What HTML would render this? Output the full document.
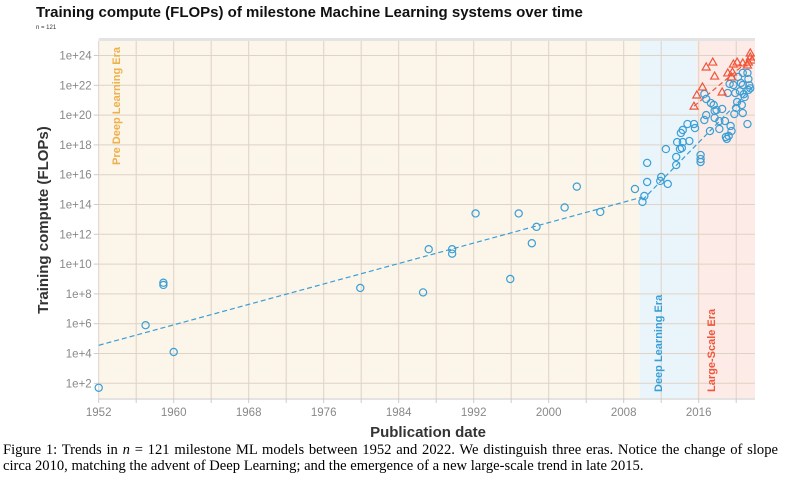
<!DOCTYPE html>
<html><head><meta charset="utf-8"><style>
body{margin:0;background:#fff;width:788px;height:490px;overflow:hidden;font-family:"Liberation Sans",sans-serif}
#cap{position:absolute;left:3px;top:442px;font-family:"Liberation Serif",serif;font-size:14.6px;line-height:16px;color:#000;width:775px;text-align:justify}
</style></head><body>
<svg id="chart" width="788" height="440" style="position:absolute;left:0;top:0" font-family="Liberation Sans, sans-serif"></svg>
<div id="cap">Figure 1: Trends in <i>n</i> = 121 milestone ML models between 1952 and 2022. We distinguish three eras. Notice the change of slope circa 2010, matching the advent of Deep Learning; and the emergence of a new large-scale trend in late 2015.</div>
<script>
const xTicks=[1952,1960,1968,1976,1984,1992,2000,2008,2016];
const yTicks=[2,4,6,8,10,12,14,16,18,20,22,24];
const eraStarts=[1952,2009.7,2015.8,2022.3];
const circleYears=[1952,1957,1958.9,1958.9,1960,1979.9,1986.6,1987.2,1989.7,1989.7,1992.2,1995.9,1996.8,1998.2,1998.7,2001.7,2003,2005.5,2009.2,2010.2,2010.0,2010.5,2010.5,2012.0,2011.9,2012.7,2012.5,2013.6,2013.6,2013.7,2014.0,2014.2,2014.3,2014.1,2014.3,2014.8,2015.0,2015.5,2015.6,2016.2,2016.2,2016.2,2016.6,2016.8,2016.6,2016.8,2017.2,2017.3,2017.6,2017.7,2017.9,2017.7,2018.2,2018.2,2018.5,2018.8,2018.9,2019.0,2019.2,2019.4,2019.5,2019.1,2019.3,2019.7,2019.9,2020.0,2019.8,2020.1,2020.6,2020.7,2021.2,2020.2,2020.7,2021.2,2020.7,2021.3,2021.3,2020.9,2020.5,2021.5,2021.4,2020.4,2020.8];
const circleLogs=[1.7,5.9,8.6,8.75,4.1,8.4,8.1,11.0,10.7,11.0,13.4,9.0,13.4,11.4,12.5,13.8,15.2,13.5,15.04,14.57,14.17,15.51,16.79,15.85,15.58,15.38,17.72,17.19,16.65,18.19,17.72,17.79,18.19,18.8,19.0,19.4,18.26,19.4,19.13,17.32,17.05,16.85,21.42,21.08,19.67,20.0,18.93,20.81,20.68,20.28,20.34,19.81,19.6,19.07,20.41,19.6,18.53,18.4,18.6,19.27,18.93,21.48,22.09,22.02,21.48,20.48,20.07,20.88,20.68,20.14,19.4,22.56,22.83,22.83,22.02,21.68,22.42,21.21,22.15,21.8,22.0,21.6,21.4];
const triYears=[2016.8,2017.5,2017.7,2019.7,2020.1,2021.5,2021.7,2021.2,2020.7,2019.6,2019.5,2018.5,2016.4,2015.8,2015.5,2019.1,2021.5,2021.3];
const triLogs=[23.23,23.56,22.62,23.43,23.56,24.17,23.7,23.36,23.5,22.89,22.56,21.55,21.89,21.35,20.6,22.83,23.9,23.56];
const trendPreX=[1952,2010],trendPreY=[4.55,14.5];
const trendDLX=[2010,2021.8],trendDLY=[14.3,21.9];
const trendLSX=[2015.5,2022],trendLSY=[20.6,24.0];

const svg=document.getElementById('chart');const NS='http://www.w3.org/2000/svg';
const L=98.7,R=755,T=41,B=398;
const xs=y=>L+(y-1952)*9.375;
const ys=v=>55.5+(24-v)*14.9;
function mk(t,a,p){const e=document.createElementNS(NS,t);for(const k in a)e.setAttribute(k,a[k]);(p||svg).appendChild(e);return e;}
let t=mk('text',{x:36,y:17,'font-size':15,'font-weight':'bold',fill:'#111'});t.textContent='Training compute (FLOPs) of milestone Machine Learning systems over time';


t=mk('text',{x:36,y:29,'font-size':6,fill:'#333'});t.textContent='n = 121';


const eraCols=['#fcf5e9','#eaf4fb','#fdebe7'];const eraNames=['pre-deep-learning-era','deep-learning-era','large-scale-era'];
for(let i=0;i<3;i++){const r=mk('rect',{x:xs(eraStarts[i]),y:T,width:Math.min(R,xs(eraStarts[i+1]))-xs(eraStarts[i]),height:B-T,fill:eraCols[i]});

}
mk('rect',{x:L,y:T-3,width:R-L,height:3,fill:'#e3e3e3'});
mk('rect',{x:L,y:B,width:R-L,height:2,fill:'#e3e3e3'});
for(let yr=1952;yr<=2020;yr+=4){mk('line',{x1:xs(yr),x2:xs(yr),y1:T,y2:B,stroke:'#ddd3c6','stroke-width':1});mk('line',{x1:xs(yr),x2:xs(yr),y1:B,y2:B+5,stroke:'#ccc'});}
yTicks.forEach(v=>{mk('line',{x1:L,x2:R,y1:ys(v),y2:ys(v),stroke:'#ddd3c6'});mk('line',{x1:L-5,x2:L,y1:ys(v),y2:ys(v),stroke:'#ccc'});
const tx=mk('text',{x:L-7,y:ys(v)+4,'font-size':11.5,fill:'#888','text-anchor':'end'});tx.textContent='1e+'+v;

});
xTicks.forEach(v=>{const tx=mk('text',{x:xs(v),y:416,'font-size':11.5,fill:'#888','text-anchor':'middle'});tx.textContent=v;

});
function vlab(x,y,s,c,n){const e=mk('text',{x:x,y:y,'font-size':11,'font-weight':'bold',fill:c,transform:`rotate(-90 ${x} ${y})`});e.textContent=s;

}
vlab(120,165,'Pre Deep Learning Era','#eeb04a','pre-dl-era-label');
vlab(662,392,'Deep Learning Era','#3a9fd6','dl-era-label');
vlab(715,392,'Large-Scale Era','#f0553a','ls-era-label');
t=mk('text',{x:48,y:220,'font-size':15,'font-weight':'bold',fill:'#333','text-anchor':'middle',transform:'rotate(-90 48 220)'});t.textContent='Training compute (FLOPs)';


t=mk('text',{x:428,y:437,'font-size':15,'font-weight':'bold',fill:'#333','text-anchor':'middle'});t.textContent='Publication date';


const cp=mk('clipPath',{id:'pc'});mk('rect',{x:L-5,y:T,width:R-L+5,height:B-T},cp);
const g=mk('g',{'clip-path':'url(#pc)'});
function tl(X,Y,c,n){const e=mk('line',{x1:xs(X[0]),y1:ys(Y[0]),x2:xs(X[1]),y2:ys(Y[1]),stroke:c,'stroke-width':1.2,'stroke-dasharray':'5,3'},g);

}
tl(trendPreX,trendPreY,'#3a9fd6','pre-dl-trend-line');
tl(trendDLX,trendDLY,'#3a9fd6','dl-trend-line');
tl(trendLSX,trendLSY,'#f0553a','ls-trend-line');
circleYears.forEach((yr,i)=>{const c=mk('circle',{cx:xs(yr),cy:ys(circleLogs[i]),r:3.6,fill:'none',stroke:'#3a9fd6','stroke-width':1.2},g);

});
triYears.forEach((yr,i)=>{const x=xs(yr),y=ys(triLogs[i]);const p=mk('polygon',{points:`${x},${y-4} ${x-4},${y+3} ${x+4},${y+3}`,fill:'none',stroke:'#f0553a','stroke-width':1.2},g);

});
</script>
</body></html>
